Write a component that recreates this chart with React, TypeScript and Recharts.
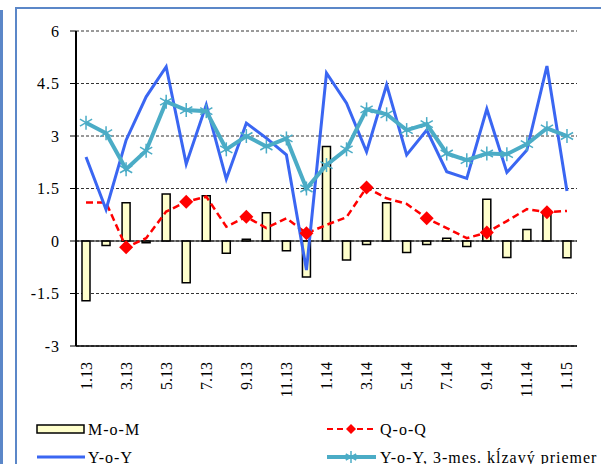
import React from 'react'
import { ComposedChart, Bar, Line, XAxis, YAxis, CartesianGrid, ReferenceLine, Legend } from 'recharts'

const months = [
  '1.13', '2.13', '3.13', '4.13', '5.13', '6.13', '7.13', '8.13', '9.13', '10.13', '11.13', '12.13',
  '1.14', '2.14', '3.14', '4.14', '5.14', '6.14', '7.14', '8.14', '9.14', '10.14', '11.14', '12.14',
  '1.15',
]
const mom = [-1.71, -0.13, 1.09, -0.05, 1.34, -1.19, 1.29, -0.35, 0.05, 0.81, -0.28, -1.03, 2.7, -0.54, -0.1, 1.09, -0.33, -0.1, 0.08, -0.16, 1.19, -0.47, 0.33, 0.8, -0.48]
const qoq = [1.1, 1.1, -0.18, 0.08, 0.84, 1.12, 1.27, 0.41, 0.69, 0.37, 0.65, 0.22, 0.46, 0.68, 1.53, 1.22, 1.06, 0.65, 0.37, 0.08, 0.24, 0.57, 0.91, 0.82, 0.86]
const yoy = [2.4, 0.9, 2.88, 4.12, 4.98, 2.2, 3.89, 1.77, 3.37, 2.94, 2.46, -0.83, 4.8, 3.94, 2.55, 4.46, 2.46, 3.17, 1.98, 1.79, 3.77, 1.96, 2.6, 5.0, 1.43]
const yoy3m = [3.38, 3.08, 2.05, 2.58, 3.98, 3.74, 3.71, 2.62, 3.0, 2.7, 2.93, 1.5, 2.17, 2.62, 3.76, 3.62, 3.17, 3.34, 2.5, 2.31, 2.5, 2.48, 2.77, 3.22, 3.0]
const yTicks = [-3, -1.5, 0, 1.5, 3, 4.5, 6]

const data = months.map((m, i) => ({ month: m, mom: mom[i], qoq: qoq[i], yoy: yoy[i], yoy3m: yoy3m[i] }))

const FONT = '"Liberation Serif", "Times New Roman", serif'
const BLUE = '#3a66f2'
const TEAL = '#4bacc6'
const RED = '#ff0000'
const FRAME = '#5b87c8'

function Diamond({ cx, cy, r = 7 }: { cx: number; cy: number; r?: number }) {
  return <path d={`M${cx},${cy - r} L${cx + r},${cy} L${cx},${cy + r} L${cx - r},${cy} Z`} fill={RED} />
}

function Star({ cx, cy, r = 7 }: { cx: number; cy: number; r?: number }) {
  const d = r * 0.87
  return (
    <g stroke={TEAL} strokeWidth={1.5}>
      <line x1={cx} y1={cy - r} x2={cx} y2={cy + r} />
      <line x1={cx - d} y1={cy - r / 2} x2={cx + d} y2={cy + r / 2} />
      <line x1={cx - d} y1={cy + r / 2} x2={cx + d} y2={cy - r / 2} />
    </g>
  )
}

const QuarterDot = (props: any) => {
  const { cx, cy, index } = props
  if (index % 3 !== 2) return <g key={index} />
  return <Diamond key={index} cx={cx} cy={cy} />
}

const StarDot = (props: any) => <Star key={props.index} cx={props.cx} cy={props.cy} />

const XTick = (props: any) => {
  const { x, y, payload } = props
  return (
    <text
      x={x}
      y={y + 8}
      transform={`rotate(-90, ${x}, ${y + 8})`}
      textAnchor="end"
      dominantBaseline="central"
      fontFamily={FONT}
      fontSize={16}
      fill="#000"
    >
      {payload.value}
    </text>
  )
}

function ChartLegend() {
  const txt = { fontFamily: FONT, fontSize: 16, letterSpacing: 1, fill: '#000', dominantBaseline: 'central' as const }
  return (
    <svg width={601} height={56} style={{ display: 'block' }}>
      <rect x={37} y={17} width={47} height={8} fill="#ffffcc" stroke="#000" strokeWidth={1.5} />
      <text x={88} y={21} {...txt}>M-o-M</text>
      <line x1={37} y1={49} x2={85} y2={49} stroke={BLUE} strokeWidth={3} />
      <text x={88} y={49} {...txt}>Y-o-Y</text>
      <line x1={327} y1={21} x2={376} y2={21} stroke={RED} strokeWidth={2} strokeDasharray="6 4" />
      <Diamond cx={351} cy={21} r={5} />
      <text x={380} y={21} {...txt}>Q-o-Q</text>
      <line x1={327} y1={49} x2={376} y2={49} stroke={TEAL} strokeWidth={4} />
      <Star cx={351} cy={49} r={6} />
      <text x={380} y={49} {...txt}>Y-o-Y, 3-mes. kĺzavý priemer</text>
    </svg>
  )
}

export default function App() {
  return (
    <div style={{ position: 'fixed', left: 0, top: 0, width: 601, height: 464, background: '#fff', overflow: 'hidden' }}>
      <div style={{ position: 'absolute', left: 0, top: 10, width: 3, height: 454, background: FRAME }} />
      <div style={{ position: 'absolute', left: 15, top: 7, width: 2, height: 457, background: FRAME }} />
      <div style={{ position: 'absolute', left: 15, top: 7, width: 586, height: 2, background: FRAME }} />
      <div style={{ position: 'absolute', left: 0, top: 0 }}>
        <ComposedChart width={601} height={464} data={data} margin={{ top: 31, right: 24, left: 0, bottom: 0 }} barSize={8}>
          <CartesianGrid vertical={false} stroke="#000" strokeDasharray="3 2" strokeWidth={0.8} />
          <XAxis
            dataKey="month"
            interval={1}
            height={62}
            tickLine={false}
            axisLine={{ stroke: '#000', strokeWidth: 1.5 }}
            tick={<XTick />}
          />
          <XAxis xAxisId="top" dataKey="month" orientation="top" height={0} tick={false} tickLine={false} axisLine={{ stroke: '#000', strokeWidth: 1.5 }} />
          <YAxis
            domain={[-3, 6]}
            ticks={yTicks}
            width={76}
            tickSize={6}
            tickMargin={10}
            tickLine={{ stroke: '#000' }}
            axisLine={{ stroke: '#000', strokeWidth: 2 }}
            tick={{ fontFamily: FONT, fontSize: 16, fill: '#000', letterSpacing: 1 }}
            interval={0}
          />
          <YAxis yAxisId="right" orientation="right" domain={[-3, 6]} width={0} tick={false} tickLine={false} axisLine={{ stroke: '#000', strokeWidth: 1.5 }} />
          <ReferenceLine y={0} stroke="#000" strokeWidth={1.2} />
          <Legend verticalAlign="bottom" content={() => <ChartLegend />} wrapperStyle={{ left: 0, bottom: 0, width: 601, height: 56 }} />
          <Bar dataKey="mom" name="M-o-M" fill="#ffffcc" stroke="#000" strokeWidth={1.5} isAnimationActive={false} />
          <Line dataKey="qoq" name="Q-o-Q" stroke={RED} strokeWidth={2.5} strokeDasharray="7 4" dot={<QuarterDot />} activeDot={false} type="linear" isAnimationActive={false} />
          <Line dataKey="yoy" name="Y-o-Y" stroke={BLUE} strokeWidth={3} dot={false} activeDot={false} type="linear" isAnimationActive={false} />
          <Line dataKey="yoy3m" name="Y-o-Y, 3-mes. kĺzavý priemer" stroke={TEAL} strokeWidth={4} dot={<StarDot />} activeDot={false} type="linear" isAnimationActive={false} />
        </ComposedChart>
      </div>
    </div>
  )
}
